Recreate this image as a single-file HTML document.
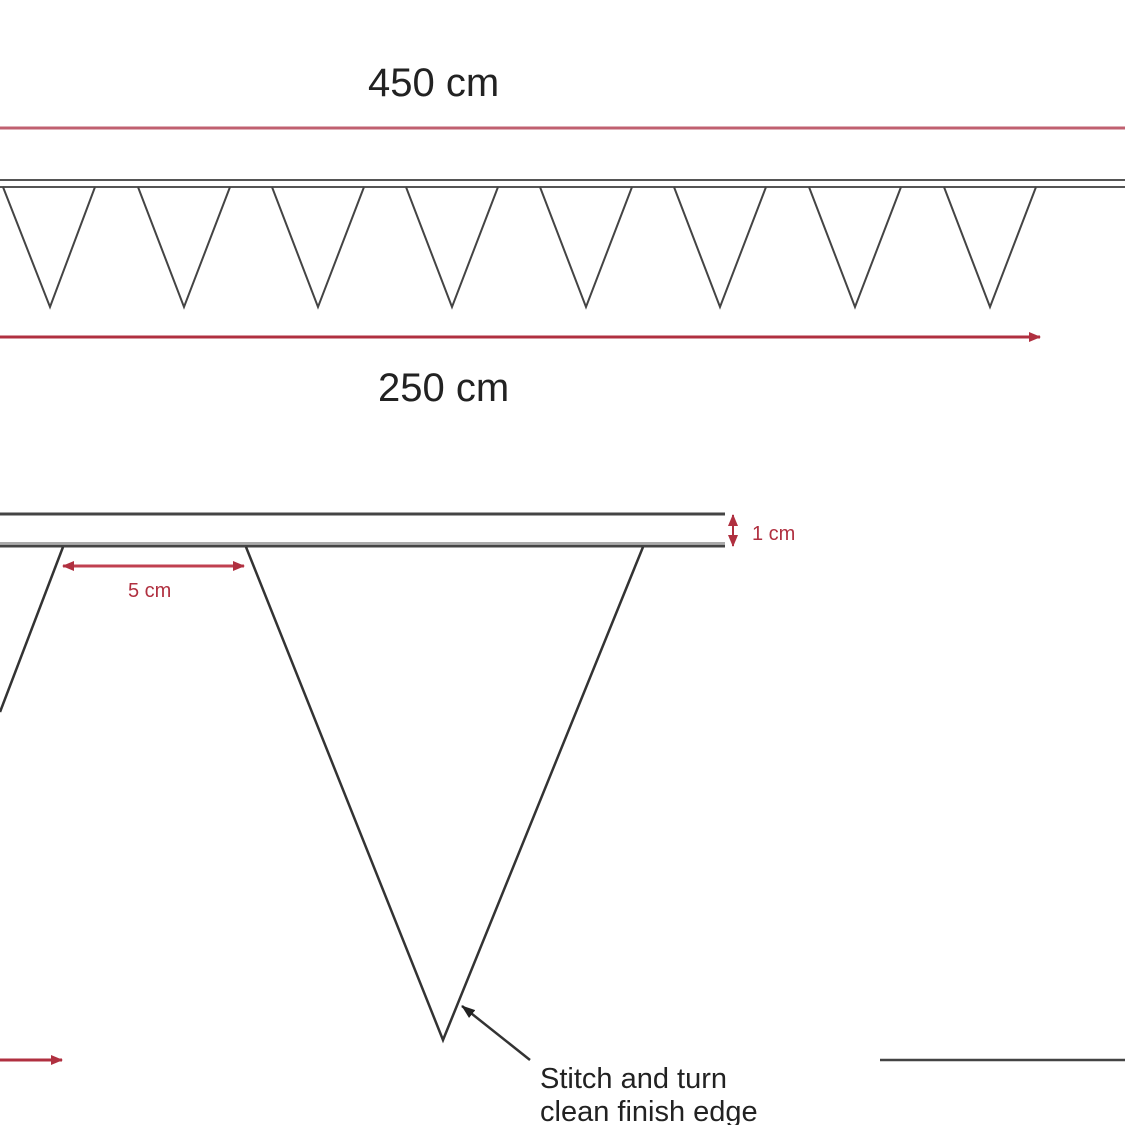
<!DOCTYPE html>
<html><head><meta charset="utf-8"><style>
html,body{margin:0;padding:0;background:#fff;}
svg{display:block;}
text{font-family:"Liberation Sans",sans-serif;}
</style></head><body>
<svg width="1125" height="1125" viewBox="0 0 1125 1125" xmlns="http://www.w3.org/2000/svg">
<defs>
<marker id="ar" markerWidth="12" markerHeight="12" refX="11" refY="6" orient="auto" markerUnits="userSpaceOnUse"><path d="M0,1 L12,6 L0,11 z" fill="#b03040"/></marker>
<marker id="al" markerWidth="12" markerHeight="12" refX="1" refY="6" orient="auto" markerUnits="userSpaceOnUse"><path d="M12,1 L0,6 L12,11 z" fill="#b03040"/></marker>
<marker id="ab" markerWidth="14" markerHeight="14" refX="1" refY="7" orient="auto" markerUnits="userSpaceOnUse"><path d="M14,2 L0,7 L14,12 z" fill="#222"/></marker>
</defs>
<text x="368" y="96" font-size="40" fill="#222">450 cm</text>
<line x1="0" y1="128" x2="1125" y2="128" stroke="#c06070" stroke-width="3"/>
<line x1="0" y1="180" x2="1125" y2="180" stroke="#555" stroke-width="2"/>
<line x1="0" y1="187" x2="1125" y2="187" stroke="#555" stroke-width="2"/>
<g fill="none" stroke="#444" stroke-width="2">
<polyline points="3,187 50,307 95,187"/>
<polyline points="138,187 184,307 230,187"/>
<polyline points="272,187 318,307 364,187"/>
<polyline points="406,187 452,307 498,187"/>
<polyline points="540,187 586,307 632,187"/>
<polyline points="674,187 720,307 766,187"/>
<polyline points="809,187 855,307 901,187"/>
<polyline points="944,187 990,307 1036,187"/>
</g>
<line x1="0" y1="337" x2="1040" y2="337" stroke="#b03040" stroke-width="3" marker-end="url(#ar)"/>
<text x="378" y="401" font-size="40" fill="#222">250 cm</text>

<line x1="0" y1="514" x2="725" y2="514" stroke="#444" stroke-width="3"/>
<line x1="0" y1="543" x2="725" y2="543" stroke="#aaa" stroke-width="2"/>
<line x1="0" y1="546" x2="725" y2="546" stroke="#444" stroke-width="3"/>
<line x1="733" y1="515" x2="733" y2="546" stroke="#b03040" stroke-width="2" marker-start="url(#al)" marker-end="url(#ar)"/>
<text x="752" y="540" font-size="20" fill="#b03040">1 cm</text>
<line x1="63" y1="566" x2="244" y2="566" stroke="#c04050" stroke-width="3" marker-start="url(#al)" marker-end="url(#ar)"/>
<text x="128" y="597" font-size="20" fill="#b03040">5 cm</text>
<g fill="none" stroke="#333" stroke-width="2.5">
<line x1="63" y1="547" x2="0" y2="712"/>
<polyline points="246,547 443,1040 643,547"/>
</g>
<line x1="0" y1="1060" x2="62" y2="1060" stroke="#b03040" stroke-width="3" marker-end="url(#ar)"/>
<line x1="880" y1="1060" x2="1125" y2="1060" stroke="#444" stroke-width="2.5"/>
<line x1="462" y1="1006" x2="530" y2="1060" stroke="#333" stroke-width="2.5" marker-start="url(#ab)"/>
<text x="540" y="1088" font-size="29" fill="#222">Stitch and turn</text>
<text x="540" y="1121" font-size="29" fill="#222">clean finish edge</text>
</svg>
</body></html>
